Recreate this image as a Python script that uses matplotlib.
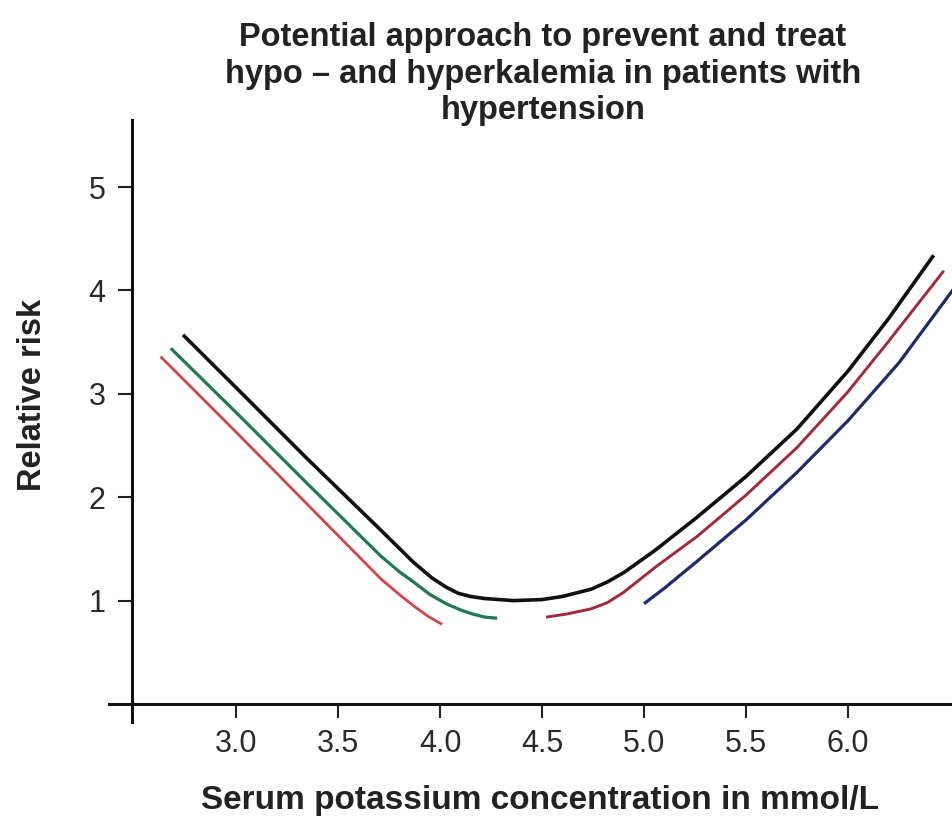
import matplotlib
matplotlib.use("Agg")
import matplotlib.pyplot as plt

plt.rcParams['font.family'] = ['Liberation Sans', 'DejaVu Sans']

# Data (x: serum K+ mmol/L, y: relative risk)
black_x = [2.74, 3.00, 3.35, 3.70, 3.87, 3.96, 4.03, 4.09, 4.15, 4.22, 4.36, 4.50, 4.60, 4.74, 4.82, 4.90,
           5.05, 5.25, 5.50, 5.75, 6.00, 6.20, 6.42]
black_y = [3.57, 3.06, 2.37, 1.70, 1.37, 1.22, 1.13, 1.07, 1.04, 1.02, 1.00, 1.01, 1.04, 1.11, 1.18, 1.27,
           1.48, 1.79, 2.20, 2.66, 3.22, 3.73, 4.34]

green_x = [2.68, 3.00, 3.35, 3.71, 3.80, 3.87, 3.95, 4.03, 4.10, 4.16, 4.22, 4.28]
green_y = [3.44, 2.82, 2.13, 1.43, 1.28, 1.18, 1.06, 0.97, 0.91, 0.87, 0.84, 0.83]

red_left_x = [2.63, 3.00, 3.35, 3.71, 3.80, 3.87, 3.94, 4.01]
red_left_y = [3.36, 2.63, 1.93, 1.21, 1.06, 0.95, 0.85, 0.77]

red_right_x = [4.52, 4.62, 4.74, 4.82, 4.90, 5.06, 5.26, 5.50, 5.75, 6.00, 6.20, 6.47]
red_right_y = [0.84, 0.87, 0.92, 0.98, 1.08, 1.33, 1.62, 2.02, 2.48, 3.02, 3.51, 4.19]

blue_x = [5.00, 5.10, 5.26, 5.50, 5.75, 6.00, 6.25, 6.52]
blue_y = [0.97, 1.12, 1.38, 1.78, 2.24, 2.74, 3.30, 4.02]

x_ticks = [3.0, 3.5, 4.0, 4.5, 5.0, 5.5, 6.0]
x_tick_labels = ["3.0", "3.5", "4.0", "4.5", "5.0", "5.5", "6.0"]
y_ticks = [1, 2, 3, 4, 5]
y_tick_labels = ["1", "2", "3", "4", "5"]

title = "Potential approach to prevent and treat\nhypo \u2013 and hyperkalemia in patients with\nhypertension"
x_label = "Serum potassium concentration in mmol/L"
y_label = "Relative risk"

fig = plt.figure(figsize=(9.52, 8.19), dpi=100)
ax = fig.add_axes([109 / 952, (819 - 722) / 819, 1 - 109 / 952, (722 - 120) / 819])

ax.set_xlim(2.377, 6.51)
ax.set_ylim(-0.174, 5.648)

ax.plot(red_left_x, red_left_y, color="#d2444a", lw=2.0, solid_capstyle='butt')
ax.plot(green_x, green_y, color="#1f7a4f", lw=2.3, solid_capstyle='butt')
ax.plot(red_right_x, red_right_y, color="#a3283a", lw=2.1, solid_capstyle='butt')
ax.plot(blue_x, blue_y, color="#1c2b6b", lw=2.3, solid_capstyle='butt')
ax.plot(black_x, black_y, color="#111111", lw=2.6, solid_capstyle='butt')

for s in ["top", "right"]:
    ax.spines[s].set_visible(False)
ax.spines["left"].set_position(("data", 2.489))
ax.spines["bottom"].set_position(("data", 0.0))
for s in ["left", "bottom"]:
    ax.spines[s].set_linewidth(2.2)
    ax.spines[s].set_color("#111111")

ax.set_xticks(x_ticks)
ax.set_xticklabels(x_tick_labels)
ax.set_yticks(y_ticks)
ax.set_yticklabels(y_tick_labels)
ax.tick_params(axis="both", direction="out", length=10, width=1.5, color="#222222",
               labelsize=22, labelcolor="#2a2a2a")
ax.tick_params(axis="x", pad=8)
ax.tick_params(axis="y", pad=9)

fig.text(543 / 952, 1 - 74 / 819, title, ha="center", va="center", fontsize=23.5,
         fontweight="bold", color="#222222", linespacing=1.22)
fig.text(540 / 952, 1 - 800 / 819, x_label, ha="center", va="center", fontsize=24,
         fontweight="bold", color="#222222")
fig.text(33 / 952, 1 - 395 / 819, y_label, ha="center", va="center", fontsize=23.5,
         fontweight="bold", color="#222222", rotation=90)

fig.savefig("out.png", dpi=100, facecolor="white")
